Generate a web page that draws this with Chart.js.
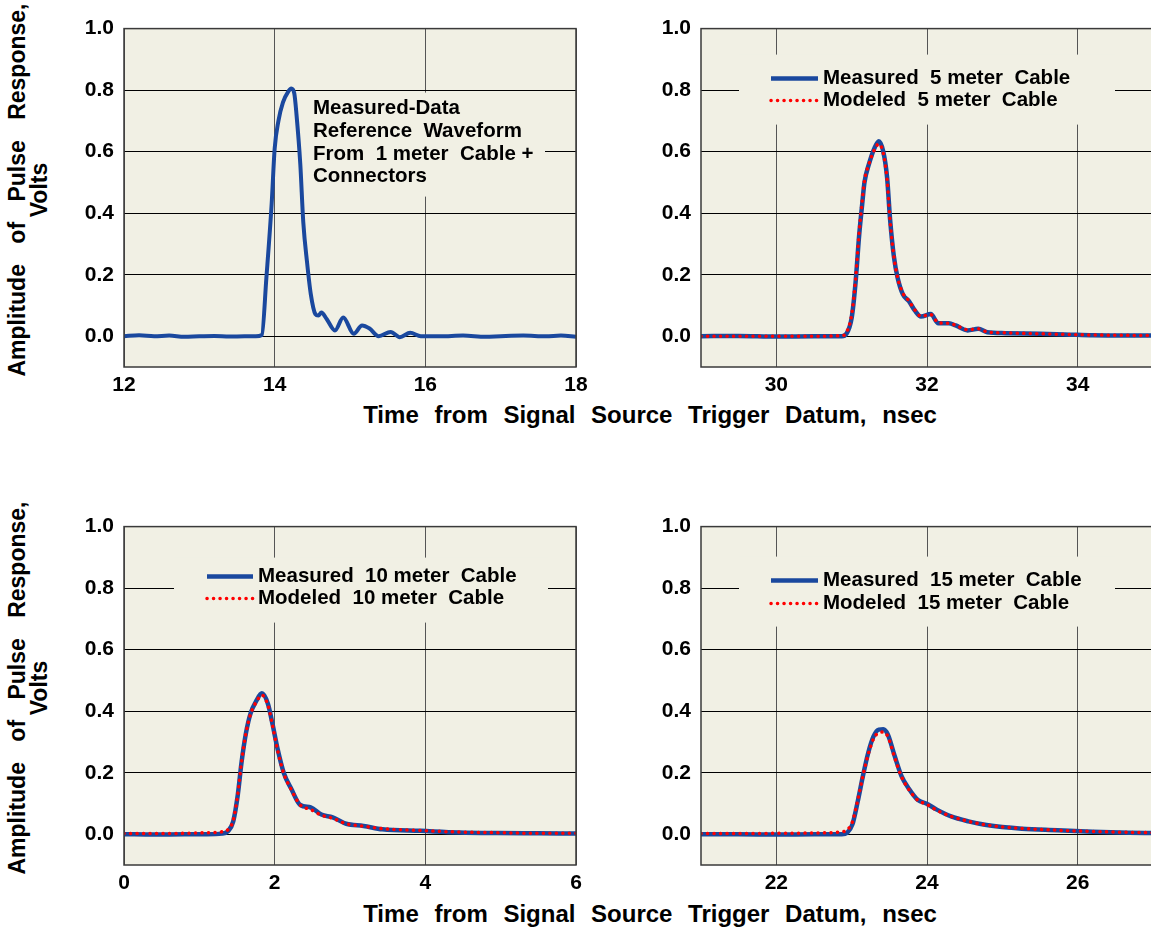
<!DOCTYPE html>
<html>
<head>
<meta charset="utf-8">
<script src="https://cdn.jsdelivr.net/npm/chart.js@4.4.1/dist/chart.umd.min.js"></script>
<style>
  body { margin: 0; width: 1151px; height: 930px; overflow: hidden; position: relative; background: #fff;
         font-family: "Liberation Sans", Arial, sans-serif; font-weight: bold; color: #000; }
  canvas { position: absolute; }
  .xtitle { position: absolute; left: 0; width: 1300px; text-align: center; font-size: 24px; line-height: 24px; word-spacing: 9px; }
  .ytitle { position: absolute; width: 420px; height: 44px; line-height: 22px; font-size: 23px; text-align: center;
            word-spacing: 14px; transform: rotate(-90deg); white-space: nowrap; }
</style>
</head>
<body>
<div class="ytitle" style="left:-182px; top:168px">Amplitude of Pulse Response,<br>Volts</div>
<div class="ytitle" style="left:-182px; top:666px">Amplitude of Pulse Response,<br>Volts</div>
<div class="xtitle" style="top:403px">Time from Signal Source Trigger Datum, nsec</div>
<div class="xtitle" style="top:902px">Time from Signal Source Trigger Datum, nsec</div>

<canvas id="p1"></canvas>
<canvas id="p2"></canvas>
<canvas id="p3"></canvas>
<canvas id="p4"></canvas>

<script>
// --- values ---
const yTicks = [0, 0.2, 0.4, 0.6, 0.8, 1.0];

// 1 meter reference waveform
const refTime  = [12.0, 12.2, 12.4, 12.6, 12.8, 13.0, 13.2, 13.4, 13.6, 13.75, 13.83, 13.89, 13.96, 14.0, 14.05,
                  14.11, 14.18, 14.22, 14.26, 14.29, 14.34, 14.38, 14.43, 14.48, 14.54, 14.58, 14.62, 14.69, 14.80, 14.91,
                  15.05, 15.16, 15.26, 15.38, 15.54, 15.66, 15.80, 15.94, 16.2, 16.5, 16.8, 17.0, 17.3, 17.6, 17.8, 18.0];
const refVolts = [0.0, 0.003, 0.0, 0.002, -0.002, 0.0, 0.001, -0.001, 0.0, 0.0, 0.004, 0.19, 0.43, 0.61, 0.70,
                  0.76, 0.795, 0.805, 0.79, 0.72, 0.56, 0.37, 0.24, 0.136, 0.072, 0.067, 0.077, 0.056, 0.019, 0.061,
                  0.008, 0.035, 0.025, 0.0, 0.014, -0.003, 0.011, 0.0, 0.0, 0.002, -0.002, 0.0, 0.002, 0.0, 0.002, -0.002];

// 5 meter cable
const time5     = [29.0, 29.5, 30.0, 30.5, 30.87, 30.93, 31.0, 31.05, 31.10, 31.14, 31.17, 31.23, 31.30, 31.36, 31.42,
                   31.47, 31.51, 31.56, 31.61, 31.68, 31.76, 31.84, 31.92, 32.05, 32.15, 32.29, 32.38, 32.54, 32.68, 32.80,
                   33.04, 33.5, 33.83, 34.2, 34.6, 35.0];
const measured5 = [0.0, 0.001, -0.001, 0.0, 0.0, 0.008, 0.06, 0.17, 0.33, 0.43, 0.50, 0.56, 0.61, 0.634, 0.60,
                   0.517, 0.38, 0.26, 0.19, 0.136, 0.114, 0.083, 0.064, 0.072, 0.042, 0.042, 0.035, 0.019, 0.024, 0.013,
                   0.01, 0.008, 0.006, 0.003, 0.002, 0.002];
const modeled5  = [0.0, 0.0, 0.0, 0.0, 0.002, 0.012, 0.07, 0.18, 0.34, 0.44, 0.505, 0.56, 0.605, 0.625, 0.595,
                   0.51, 0.375, 0.26, 0.19, 0.14, 0.115, 0.085, 0.065, 0.07, 0.044, 0.042, 0.036, 0.021, 0.024, 0.014,
                   0.011, 0.008, 0.006, 0.004, 0.003, 0.002];

// 10 meter cable
const time10     = [0.0, 0.4, 0.8, 1.1, 1.30, 1.38, 1.45, 1.51, 1.56, 1.62, 1.68, 1.76, 1.83, 1.91, 1.97,
                    2.04, 2.12, 2.22, 2.34, 2.48, 2.62, 2.77, 2.95, 3.18, 3.43, 3.94, 4.45, 4.96, 5.5, 6.0];
const measured10 = [0.0, -0.001, 0.0, 0.0, 0.002, 0.01, 0.042, 0.127, 0.233, 0.33, 0.393, 0.435, 0.458, 0.424, 0.36,
                    0.276, 0.20, 0.148, 0.095, 0.087, 0.064, 0.055, 0.034, 0.027, 0.016, 0.011, 0.006, 0.004, 0.003, 0.002];
const modeled10  = [0.002, 0.002, 0.003, 0.005, 0.008, 0.015, 0.045, 0.13, 0.235, 0.33, 0.39, 0.432, 0.452, 0.42, 0.355,
                    0.272, 0.198, 0.145, 0.095, 0.08, 0.062, 0.052, 0.034, 0.026, 0.018, 0.012, 0.007, 0.005, 0.003, 0.003];

// 15 meter cable
const time15     = [21.0, 21.5, 22.0, 22.5, 22.87, 22.94, 23.01, 23.08, 23.15, 23.22, 23.29, 23.36, 23.42, 23.48,
                    23.57, 23.66, 23.76, 23.88, 23.99, 24.13, 24.32, 24.55, 24.79, 25.26, 25.73, 26.2, 26.68, 27.0];
const measured15 = [0.0, 0.0, -0.001, 0.0, 0.0, 0.005, 0.032, 0.106, 0.19, 0.265, 0.318, 0.34, 0.341, 0.324,
                    0.255, 0.19, 0.148, 0.111, 0.10, 0.08, 0.058, 0.042, 0.03, 0.018, 0.013, 0.008, 0.005, 0.004];
const modeled15  = [0.002, 0.002, 0.003, 0.004, 0.008, 0.014, 0.04, 0.11, 0.19, 0.26, 0.31, 0.33, 0.332, 0.318,
                    0.25, 0.188, 0.145, 0.11, 0.098, 0.078, 0.058, 0.042, 0.03, 0.019, 0.013, 0.009, 0.006, 0.005];

const refNote = ['Measured-Data', 'Reference  Waveform', 'From  1 meter  Cable +', 'Connectors'];

// --- look ---
const BLUE = '#1a489e';
const RED = '#ff0000';
const PLOT_BG = '#f1f0e4';
const FONT = '"Liberation Sans", Arial, sans-serif';

const PLOT_W = 452, PLOT_H = 346;
const AXIS_W = 70, AXIS_H = 40, PAD_T = 15, PAD_R = 20;

Chart.defaults.font.family = FONT;
Chart.defaults.font.weight = 'bold';
Chart.defaults.color = '#000';

const toPoints = (xs, ys) => xs.map((x, i) => ({ x: x, y: ys[i] }));

function measuredSet(label, xs, ys, width) {
    return {
        label: label, data: toPoints(xs, ys), borderColor: BLUE, borderWidth: width,
        pointRadius: 0, cubicInterpolationMode: 'monotone', order: 1
    };
}

function modeledSet(label, xs, ys) {
    return {
        label: label, data: toPoints(xs, ys), borderColor: RED, borderWidth: 3.5,
        borderDash: [0.1, 6.4], borderCapStyle: 'round',
        pointRadius: 0, cubicInterpolationMode: 'monotone', order: 0
    };
}

// plot background, note/legend box, frame
const panelDecor = {
    id: 'panelDecor',
    beforeDraw(chart) {
        const { ctx, chartArea: a } = chart;
        ctx.save();
        ctx.fillStyle = PLOT_BG;
        ctx.fillRect(a.left, a.top, a.right - a.left, a.bottom - a.top);
        ctx.restore();
    },
    beforeDatasetsDraw(chart, args, o) {
        const { ctx, chartArea: a } = chart;
        ctx.save();
        ctx.fillStyle = PLOT_BG;
        ctx.fillRect(a.left + o.box[0], a.top + o.box[1], o.box[2], o.box[3]);
        ctx.font = 'bold 20.5px ' + FONT;
        ctx.textBaseline = 'middle';
        ctx.fillStyle = '#000';
        if (o.note) {
            o.note.forEach((t, i) => ctx.fillText(t, a.left + o.textX, a.top + o.rowY[i]));
        } else {
            // legend: modeled drawn second in the list
            const sets = [chart.data.datasets[1], chart.data.datasets[0]];
            sets.forEach((ds, i) => {
                const y = a.top + o.rowY[i];
                ctx.save();
                ctx.strokeStyle = ds.borderColor;
                ctx.lineWidth = ds.borderWidth;
                ctx.lineCap = ds.borderCapStyle || 'butt';
                ctx.setLineDash(ds.borderDash || []);
                ctx.beginPath();
                ctx.moveTo(a.left + o.lineX[0], y);
                ctx.lineTo(a.left + o.lineX[1], y);
                ctx.stroke();
                ctx.restore();
                ctx.fillText(ds.label, a.left + o.textX, y);
            });
        }
        ctx.restore();
    },
    afterDraw(chart) {
        const { ctx, chartArea: a } = chart;
        ctx.save();
        ctx.strokeStyle = '#3a3a3a';
        ctx.lineWidth = 1.5;
        ctx.strokeRect(a.left, a.top, a.right - a.left, a.bottom - a.top);
        ctx.restore();
    }
};

function makePanel(id, cfg) {
    const canvas = document.getElementById(id);
    canvas.width = AXIS_W + PLOT_W + PAD_R;
    canvas.height = PAD_T + PLOT_H + AXIS_H;
    canvas.style.left = (cfg.left - AXIS_W) + 'px';
    canvas.style.top = (cfg.top - PAD_T) + 'px';

    return new Chart(canvas, {
        type: 'line',
        data: { datasets: cfg.datasets },
        options: {
            responsive: false,
            animation: false,
            devicePixelRatio: 1,
            layout: { padding: { top: PAD_T, right: PAD_R, left: 0, bottom: 0 } },
            plugins: {
                legend: { display: false },
                tooltip: { enabled: false },
                panelDecor: cfg.decor
            },
            scales: {
                x: {
                    type: 'linear', min: cfg.xMin, max: cfg.xMax,
                    afterBuildTicks: s => { s.ticks = cfg.xTicks.map(v => ({ value: v })); },
                    afterFit: s => { s.height = AXIS_H; },
                    grid: { color: '#555', lineWidth: 1, drawTicks: false },
                    border: { display: false },
                    ticks: { font: { size: 21, weight: 'bold' }, padding: 6, maxRotation: 0, autoSkip: false }
                },
                y: {
                    min: -0.1, max: 1.0,
                    afterBuildTicks: s => { s.ticks = yTicks.map(v => ({ value: v })); },
                    afterFit: s => { s.width = AXIS_W; },
                    grid: { color: '#000', lineWidth: 1, drawTicks: false },
                    border: { display: false },
                    ticks: { font: { size: 21, weight: 'bold' }, padding: 10, callback: v => v.toFixed(1) }
                }
            }
        },
        plugins: [panelDecor]
    });
}

makePanel('p1', {
    left: 124, top: 21, xMin: 12, xMax: 18, xTicks: [12, 14, 16, 18],
    datasets: [measuredSet('Measured  1 meter  Cable', refTime, refVolts, 4)],
    decor: { box: [177, 64, 244, 104], textX: 189, rowY: [80, 103, 126, 148], note: refNote }
});

makePanel('p2', {
    left: 701, top: 21, xMin: 29, xMax: 35, xTicks: [30, 32, 34],
    datasets: [modeledSet('Modeled  5 meter  Cable', time5, modeled5),
               measuredSet('Measured  5 meter  Cable', time5, measured5, 4.5)],
    decor: { box: [38, 26, 376, 70], lineX: [70, 117], textX: 122, rowY: [50, 72] }
});

makePanel('p3', {
    left: 124, top: 519, xMin: 0, xMax: 6, xTicks: [0, 2, 4, 6],
    datasets: [modeledSet('Modeled  10 meter  Cable', time10, modeled10),
               measuredSet('Measured  10 meter  Cable', time10, measured10, 4.5)],
    decor: { box: [50, 31, 374, 65], lineX: [83, 129], textX: 134, rowY: [50, 72] }
});

makePanel('p4', {
    left: 701, top: 519, xMin: 21, xMax: 27, xTicks: [22, 24, 26],
    datasets: [modeledSet('Modeled  15 meter  Cable', time15, modeled15),
               measuredSet('Measured  15 meter  Cable', time15, measured15, 4.5)],
    decor: { box: [38, 30, 376, 70], lineX: [70, 117], textX: 122, rowY: [54, 77] }
});
</script>
</body>
</html>
